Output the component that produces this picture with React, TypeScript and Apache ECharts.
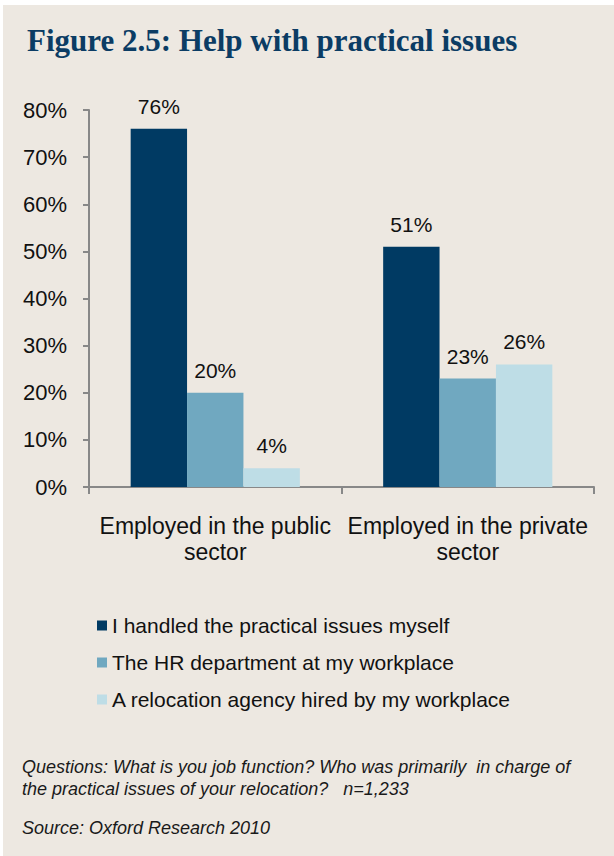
import React, { useEffect, useRef } from "react";
import * as echarts from "echarts";

const categories = ["Employed in the public\nsector", "Employed in the private\nsector"];
const seriesNames = [
  "I handled the practical issues myself",
  "The HR department at my workplace",
  "A relocation agency hired by my workplace",
];
const handledMyself = [76, 51];
const hrDepartment = [20, 23];
const relocationAgency = [4, 26];
const yTicks = [0, 10, 20, 30, 40, 50, 60, 70, 80];
const colors = ["#003a63", "#70a8c0", "#bedde6"];

export default function App() {
  const ref = useRef<HTMLDivElement>(null);
  useEffect(() => {
    document.body.style.margin = "0";
    const chart = echarts.init(ref.current!, null, { renderer: "svg" });
    const font = "'Liberation Sans', Arial, sans-serif";
    const values = [handledMyself, hrDepartment, relocationAgency];
    chart.setOption({
      animation: false,
      backgroundColor: "#ffffff",
      graphic: [
        {
          type: "rect",
          shape: { x: 3, y: 5, width: 611, height: 851 },
          style: { fill: "#ede8e1" },
          z: -10,
          silent: true,
        },
        {
          type: "text",
          left: 22,
          top: 756,
          style: {
            text: "Questions: What is you job function? Who was primarily  in charge of\nthe practical issues of your relocation?   n=1,233",
            font: "italic 18px 'Liberation Sans', Arial, sans-serif",
            fill: "#1a1a1a",
            lineHeight: 22,
          },
        },
        {
          type: "text",
          left: 22,
          top: 819,
          style: {
            text: "Source: Oxford Research 2010",
            font: "italic 18px 'Liberation Sans', Arial, sans-serif",
            fill: "#1a1a1a",
          },
        },
      ],
      title: {
        text: "Figure 2.5: Help with practical issues",
        left: 22,
        top: 20,
        textStyle: {
          fontFamily: "'Liberation Serif', 'DejaVu Serif', serif",
          fontWeight: "bold",
          fontSize: 31,
          color: "#0b3c64",
        },
      },
      legend: {
        orient: "vertical",
        left: 92,
        top: 610,
        itemWidth: 10,
        itemHeight: 10,
        itemGap: 16,
        icon: "rect",
        textStyle: { fontFamily: font, fontSize: 21, color: "#111" },
        data: seriesNames,
      },
      grid: { left: 89, right: 20, top: 110, bottom: 856 - 487 },
      xAxis: {
        type: "category",
        data: categories,
        axisLine: { lineStyle: { color: "#888", width: 2 } },
        axisTick: { show: true, length: 7, lineStyle: { color: "#888", width: 2 } },
        axisLabel: {
          interval: 0,
          hideOverlap: false,
          fontFamily: font,
          fontSize: 23,
          color: "#111",
          margin: 26,
          lineHeight: 26,
        },
      },
      yAxis: {
        type: "value",
        min: 0,
        max: 80,
        interval: 10,
        splitLine: { show: false },
        axisLine: { show: true, lineStyle: { color: "#888", width: 2 } },
        axisTick: { show: true, length: 6, lineStyle: { color: "#888", width: 2 } },
        axisLabel: {
          fontFamily: font,
          fontSize: 22,
          color: "#111",
          margin: 22,
          formatter: (v: number) => (yTicks.includes(v) ? v + "%" : ""),
        },
      },
      series: seriesNames.map((name, i) => ({
        name,
        type: "bar",
        data: values[i],
        barGap: "0%",
        barCategoryGap: "33%",
        itemStyle: { color: colors[i] },
        label: {
          show: true,
          position: "top",
          distance: 12,
          fontFamily: font,
          fontSize: 21,
          color: "#111",
          formatter: "{c}%",
        },
      })),
    });
    return () => chart.dispose();
  }, []);
  return <div ref={ref} style={{ width: 614, height: 856 }} />;
}
